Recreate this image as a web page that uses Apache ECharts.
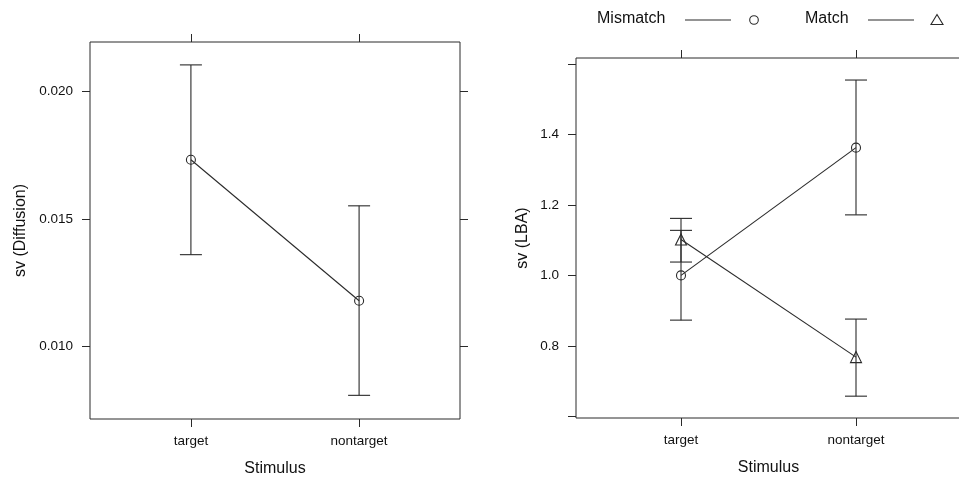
<!DOCTYPE html>
<html>
<head>
<meta charset="utf-8">
<script src="https://cdn.jsdelivr.net/npm/echarts@6/dist/echarts.min.js"></script>
<style>
  html, body { margin: 0; padding: 0; background: #fff; }
  #chart { width: 959px; height: 477px; }
</style>
</head>
<body>
<div id="chart"></div>
<script>
// Stimulus categories, placed at x = 1 and x = 2
const categories = ['target', 'nontarget'];
const categoryPos = [1, 2];

// Left panel: diffusion model sv estimates
const diffMean  = [0.01732, 0.01178];
const diffLower = [0.01359, 0.00806];
const diffUpper = [0.02105, 0.01551];
const diffTicks = [0.010, 0.015, 0.020];

// Right panel: LBA sv estimates by response match
const mismatchMean  = [1.000, 1.363];
const mismatchLower = [0.873, 1.172];
const mismatchUpper = [1.128, 1.555];
const matchMean  = [1.102, 0.768];
const matchLower = [1.038, 0.657];
const matchUpper = [1.162, 0.876];
const lbaTicks = [0.6, 0.8, 1.0, 1.2, 1.4, 1.6];
const lbaLabels = [0.8, 1.0, 1.2, 1.4];

const INK = '#2a2a2a';
const FONT = '"Liberation Sans", Arial, Helvetica, sans-serif';

const chart = echarts.init(document.getElementById('chart'), null, { renderer: 'canvas' });

function pts(mean) {
  return categoryPos.map((x, i) => [x, mean[i]]);
}
function bars(lo, hi) {
  return categoryPos.map((x, i) => [x, lo[i], hi[i]]);
}

function errorBarSeries(xi, yi, lo, hi) {
  return {
    type: 'custom',
    xAxisIndex: xi,
    yAxisIndex: yi,
    silent: true,
    z: 3,
    data: bars(lo, hi),
    renderItem: function (params, api) {
      const x = api.value(0);
      const pLo = api.coord([x, api.value(1)]);
      const pHi = api.coord([x, api.value(2)]);
      const cap = 11;
      const style = { stroke: INK, lineWidth: 1.1 };
      return {
        type: 'group',
        children: [
          { type: 'line', shape: { x1: pLo[0], y1: pLo[1], x2: pHi[0], y2: pHi[1] }, style: style },
          { type: 'line', shape: { x1: pLo[0] - cap, y1: pLo[1], x2: pLo[0] + cap, y2: pLo[1] }, style: style },
          { type: 'line', shape: { x1: pHi[0] - cap, y1: pHi[1], x2: pHi[0] + cap, y2: pHi[1] }, style: style }
        ]
      };
    }
  };
}

function lineSeries(name, xi, yi, mean, symbol, size) {
  return {
    name: name,
    type: 'line',
    xAxisIndex: xi,
    yAxisIndex: yi,
    data: pts(mean),
    symbol: symbol,
    symbolSize: size,
    showAllSymbol: true,
    z: 4,
    lineStyle: { color: INK, width: 1.1 },
    itemStyle: { color: 'rgba(0,0,0,0)', borderColor: INK, borderWidth: 1.1 },
    emphasis: { disabled: true },
    animation: false
  };
}

const tickStyle = { show: true, inside: false, length: 8, lineStyle: { color: INK, width: 1 } };

function xAxes(gridIndex) {
  return [
    {
      type: 'value', gridIndex: gridIndex, position: 'bottom',
      min: 0.4, max: 2.6,
      axisLine: { show: false },
      splitLine: { show: false },
      axisTick: Object.assign({ customValues: categoryPos }, tickStyle),
      axisLabel: {
        customValues: categoryPos, margin: 15,
        color: '#111', fontFamily: FONT, fontSize: 13.5,
        formatter: v => categories[Math.round(v) - 1]
      },
      name: 'Stimulus', nameLocation: 'middle', nameGap: 42,
      nameTextStyle: { color: '#111', fontFamily: FONT, fontSize: 16 }
    },
    {
      type: 'value', gridIndex: gridIndex, position: 'top',
      min: 0.4, max: 2.6,
      axisLine: { show: false },
      splitLine: { show: false },
      axisTick: Object.assign({ customValues: categoryPos }, tickStyle),
      axisLabel: { show: false }
    }
  ];
}

function yAxes(gridIndex, min, max, ticks, labels, digits, title, gap) {
  return [
    {
      type: 'value', gridIndex: gridIndex, position: 'left',
      min: min, max: max,
      axisLine: { show: false },
      splitLine: { show: false },
      axisTick: Object.assign({ customValues: ticks }, tickStyle),
      axisLabel: {
        customValues: labels, margin: 17,
        color: '#111', fontFamily: FONT, fontSize: 13.5,
        formatter: v => v.toFixed(digits)
      },
      name: title, nameLocation: 'middle', nameGap: gap, nameRotate: 90,
      nameTextStyle: { color: '#111', fontFamily: FONT, fontSize: 16 }
    },
    {
      type: 'value', gridIndex: gridIndex, position: 'right',
      min: min, max: max,
      axisLine: { show: false },
      splitLine: { show: false },
      axisTick: Object.assign({ customValues: ticks }, tickStyle),
      axisLabel: { show: false }
    }
  ];
}

// Legend drawn as graphic elements: label, line sample, then symbol
const legendY = 20;
const legend = [
  { type: 'text', left: 597, top: legendY - 9, style: { text: 'Mismatch', fill: '#111', font: '16px ' + FONT } },
  { type: 'line', shape: { x1: 685, y1: legendY, x2: 731, y2: legendY }, style: { stroke: INK, lineWidth: 1.1 } },
  { type: 'circle', shape: { cx: 754, cy: legendY, r: 4.3 }, style: { fill: 'none', stroke: INK, lineWidth: 1.1 } },
  { type: 'text', left: 805, top: legendY - 9, style: { text: 'Match', fill: '#111', font: '16px ' + FONT } },
  { type: 'line', shape: { x1: 868, y1: legendY, x2: 914, y2: legendY }, style: { stroke: INK, lineWidth: 1.1 } },
  { type: 'polygon', shape: { points: [[937, legendY - 5.5], [943, legendY + 4.5], [931, legendY + 4.5]] }, style: { fill: 'none', stroke: INK, lineWidth: 1.1 } }
];

const option = {
  animation: false,
  backgroundColor: '#fff',
  grid: [
    { left: 90, top: 42, width: 370, height: 377, outerBoundsMode: 'none', containLabel: false,
      show: true, borderColor: INK, borderWidth: 1, backgroundColor: 'transparent' },
    { left: 576, top: 58, width: 385, height: 360, outerBoundsMode: 'none', containLabel: false,
      show: true, borderColor: INK, borderWidth: 1, backgroundColor: 'transparent' }
  ],
  xAxis: xAxes(0).concat(xAxes(1)),
  yAxis: yAxes(0, 0.00713, 0.02195, diffTicks, diffTicks, 3, 'sv (Diffusion)', 61)
    .concat(yAxes(1, 0.595, 1.6176, lbaTicks, lbaLabels, 1, 'sv (LBA)', 45)),
  series: [
    errorBarSeries(0, 0, diffLower, diffUpper),
    lineSeries('Diffusion', 0, 0, diffMean, 'circle', 9),
    errorBarSeries(2, 2, mismatchLower, mismatchUpper),
    lineSeries('Mismatch', 2, 2, mismatchMean, 'circle', 9),
    errorBarSeries(2, 2, matchLower, matchUpper),
    lineSeries('Match', 2, 2, matchMean, 'triangle', 11)
  ],
  graphic: legend
};

chart.setOption(option);
</script>
</body>
</html>
